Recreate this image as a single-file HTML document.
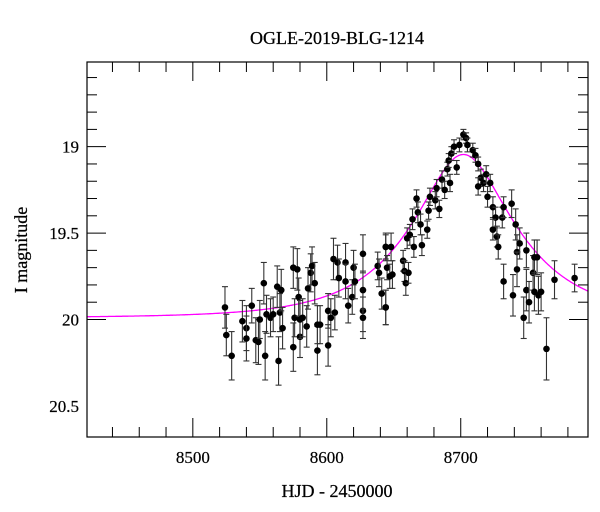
<!DOCTYPE html>
<html><head><meta charset="utf-8"><style>
html,body{margin:0;padding:0;background:#fff;}
svg{display:block;font-family:"Liberation Serif",serif;}
</style></head><body>
<svg id="chart" width="600" height="512" viewBox="0 0 600 512">
<text x="337" y="44" text-anchor="middle" font-size="18" stroke="#000" stroke-width="0.25">OGLE-2019-BLG-1214</text>
<text x="337" y="497" text-anchor="middle" font-size="18" stroke="#000" stroke-width="0.25">HJD - 2450000</text>
<text x="27" y="250" text-anchor="middle" font-size="18" stroke="#000" stroke-width="0.25" transform="rotate(-90 27 250)">I magnitude</text>
<g id="axes"></g>
<g id="model"></g>
<g id="data"></g>
<rect x="87" y="62" width="501" height="375" fill="none" stroke="#000" stroke-width="1.2"/>
</svg>
<script>
const times=[8524,8525,8529,8537,8540,8540,8544,8547,8549,8550,8553,8554,8555,8558,8560,8563,8564,8565,8567,8566,8575,8575,8576,8578,8579,8580,8580,8582,8585,8586,8588,8589,8591,8593,8593,8595,8601,8601,8603,8605,8606,8608,8609,8614,8614,8616,8619,8620,8621,8627,8627,8627,8627,8638,8639,8641,8644,8644,8648,8649,8644,8645,8647,8644,8657,8658,8659,8661,8660,8662,8664,8665,8667,8668,8670,8671,8675,8676,8677,8681,8682,8684,8686,8688,8690,8691,8692,8693,8695,8697,8699,8702,8704,8705,8709,8711,8713,8715,8713,8717,8719,8720,8722,8724,8726,8724,8727,8728,8731,8732,8732,8738,8739,8741,8742,8744,8742,8747,8749,8749,8751,8754,8755,8757,8755,8758,8760,8764,8770,8785];
const mags=[19.93,20.09,20.21,20.01,20.05,20.11,19.92,20.12,20.13,20.0,19.79,20.21,19.97,19.99,19.97,19.81,20.24,19.96,20.05,19.83,19.7,20.16,19.99,19.71,19.87,20.1,20.0,19.99,20.04,19.82,19.73,19.69,19.79,20.18,20.03,20.03,20.15,19.95,19.99,19.65,19.96,19.67,19.76,19.67,19.78,19.92,19.87,19.7,19.78,19.62,19.95,19.99,19.83,19.69,19.73,19.85,19.93,19.58,19.58,19.74,19.58,19.7,19.75,19.93,19.66,19.72,19.79,19.73,19.53,19.51,19.42,19.58,19.3,19.38,19.45,19.57,19.48,19.37,19.29,19.31,19.24,19.36,19.19,19.25,19.13,19.08,19.21,19.04,19.0,19.12,18.99,18.93,18.95,18.99,19.02,19.05,19.1,19.18,19.23,19.21,19.16,19.29,19.21,19.35,19.41,19.48,19.52,19.58,19.41,19.35,19.78,19.33,19.86,19.45,19.61,19.56,19.71,19.99,19.83,19.6,19.9,19.73,19.64,19.64,19.84,19.86,19.84,20.17,19.77,19.76];
const errs=[0.12,0.12,0.14,0.12,0.13,0.13,0.1,0.13,0.13,0.11,0.12,0.14,0.11,0.11,0.1,0.12,0.14,0.11,0.12,0.12,0.12,0.14,0.11,0.12,0.11,0.12,0.11,0.11,0.12,0.12,0.11,0.11,0.12,0.14,0.11,0.11,0.12,0.1,0.11,0.12,0.1,0.1,0.11,0.11,0.1,0.1,0.1,0.1,0.1,0.11,0.12,0.12,0.11,0.08,0.08,0.09,0.1,0.08,0.08,0.08,0.07,0.07,0.07,0.1,0.06,0.06,0.07,0.06,0.06,0.06,0.06,0.06,0.05,0.06,0.06,0.06,0.05,0.05,0.05,0.05,0.05,0.05,0.05,0.05,0.04,0.04,0.05,0.04,0.04,0.04,0.04,0.03,0.03,0.04,0.04,0.04,0.04,0.05,0.05,0.05,0.05,0.06,0.05,0.06,0.06,0.06,0.06,0.07,0.06,0.06,0.1,0.08,0.12,0.09,0.1,0.09,0.1,0.12,0.12,0.1,0.12,0.1,0.1,0.1,0.11,0.11,0.11,0.18,0.11,0.08];
const xTickLabels=[8500,8600,8700];
const yTickLabels=[19,19.5,20,20.5];
const modelT0=[8702], modelTE=[69], modelU0=[0.45], modelBase=[19.99];

const NS="http://www.w3.org/2000/svg";
const L=87,R=588,T=62,B=437;
const X0=8421,X1=8795,Y0=18.51,Y1=20.68;
const sx=t=>L+(t-X0)/(X1-X0)*(R-L);
const sy=m=>T+(m-Y0)/(Y1-Y0)*(B-T);
function mk(tag,attrs,parent){const e=document.createElementNS(NS,tag);for(const k in attrs)e.setAttribute(k,attrs[k]);parent.appendChild(e);return e;}
const axes=document.getElementById('axes');
for(let t=8440;t<=X1;t+=20){
  const x=sx(t),maj=t%100===0,len=maj?19:10;
  let e=mk('line',{x1:x,x2:x,y1:B,y2:B-len,stroke:'#000','stroke-width':1},axes);
  
  
  e=mk('line',{x1:x,x2:x,y1:T,y2:T+len,stroke:'#000','stroke-width':1},axes);
  
  
}
xTickLabels.forEach(v=>{const e=mk('text',{x:sx(v),y:463,'text-anchor':'middle','font-size':17,stroke:'#000','stroke-width':0.2},axes);e.textContent=v;
  
  });
for(let i=6;i<=20;i++){
  const m=18+i*0.1,y=sy(m),maj=i%5===0,len=maj?19:10;
  let e=mk('line',{x1:L,x2:L+len,y1:y,y2:y,stroke:'#000','stroke-width':1},axes);
  
  
  e=mk('line',{x1:R,x2:R-len,y1:y,y2:y,stroke:'#000','stroke-width':1},axes);
  
  
}
yTickLabels.forEach(v=>{const e=mk('text',{x:79,y:sy(v)+6,'text-anchor':'end','font-size':17,stroke:'#000','stroke-width':0.2},axes);e.textContent=v;
  
  });
function magAt(t){const tau=(t-modelT0[0])/modelTE[0];const u=Math.sqrt(modelU0[0]*modelU0[0]+tau*tau);const A=(u*u+2)/(u*Math.sqrt(u*u+4));return modelBase[0]-2.5*Math.log10(A);}
let d='';for(let t=X0;t<=X1;t+=0.5){d+=(d?'L':'M')+sx(t).toFixed(1)+','+sy(magAt(t)).toFixed(1);}
const mp=mk('path',{d:d,fill:'none',stroke:'#ff00ff','stroke-width':1.3},document.getElementById('model'));


const dg=document.getElementById('data');
times.forEach((t,i)=>{
  const x=sx(t),y=sy(mags[i]),y1=sy(mags[i]-errs[i]),y2=sy(mags[i]+errs[i]);
  const g=mk('g',{},dg);
  
  
  mk('line',{x1:x,x2:x,y1:y1,y2:y2,stroke:'#333','stroke-width':1.1},g);
  mk('line',{x1:x-3,x2:x+3,y1:y1,y2:y1,stroke:'#333','stroke-width':1.1},g);
  mk('line',{x1:x-3,x2:x+3,y1:y2,y2:y2,stroke:'#333','stroke-width':1.1},g);
  mk('circle',{cx:x,cy:y,r:3.3,fill:'#000'},g);
});
</script>
</body></html>
